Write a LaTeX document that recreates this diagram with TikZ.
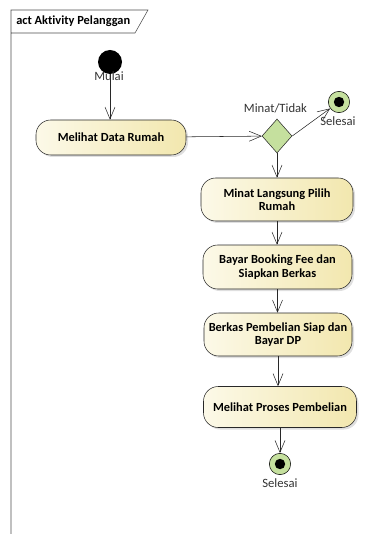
\documentclass[tikz,border=0pt]{standalone}
\usepackage{fontspec}
\setmainfont{Carlito}[Ligatures=NoCommon]
\usepackage{tikz}
\usetikzlibrary{positioning}
\usetikzlibrary{calc}
\usetikzlibrary{shapes}
\usetikzlibrary{shadows}
\usetikzlibrary{arrows.meta}
\definecolor{actLeft}{RGB}{252,249,232}
\definecolor{actRight}{RGB}{242,231,174}
\definecolor{umlGreen}{RGB}{197,224,158}
\definecolor{umlLine}{RGB}{40,40,40}
\tikzset{myAct/.style={draw=umlLine, rounded corners=11pt, left color=actLeft, right color=actRight, align=center, font=\bfseries\fontsize{9.3}{10}\selectfont, drop shadow={shadow xshift=1.5pt, shadow yshift=-1.5pt, fill=black!25}}}
\tikzset{myStart/.style={circle, fill=black, minimum size=18pt, inner sep=0pt}}
\tikzset{myEnd/.style={circle, draw=black, fill=umlGreen, minimum size=16pt, inner sep=0pt, path picture={\fill[black] (path picture bounding box.center) circle (3.9pt);}}}
\tikzset{myDec/.style={diamond, draw=umlLine, fill=umlGreen, minimum width=22.5pt, minimum height=25.5pt, inner sep=0pt}}
\tikzset{myLbl/.style={font=\fontsize{9.5}{11}\selectfont, text=black!80, inner sep=0pt}}
\tikzset{flow/.style={draw=umlLine, -{Straight Barb[length=9pt, width=7.5pt]}}}

\begin{document}
\begin{tikzpicture}[x=0.75pt, y=-0.75pt]

\useasboundingbox (0,0) rectangle (371,534);

% frame
\draw[black!70] (11,534) -- (11,10) -- (148,10) -- (135,33) -- (11,33);
\node[anchor=west, inner sep=0pt, font=\bfseries\fontsize{9.3}{11}\selectfont] (title) at (16,21.5) {act Aktivity Pelanggan};

\node[myStart] (start) at (110,62) {};
\node[myLbl] (startL) at (109,76) {Mulai};

\node[myAct, minimum width=112.5pt, minimum height=26.25pt] (a1) at (111,137.5) {Melihat Data Rumah};

\node[myDec] (dec) at (277,136) {};
\node[myLbl] (decL) at (275.5,108) {Minat/Tidak};

\node[myEnd] (end1) at (339,102) {};
\node[myLbl] (end1L) at (338,121) {Selesai};

\node[myAct, minimum width=114pt, minimum height=32.25pt] (a2) at (277,199.5) {Minat Langsung Pilih\\Rumah};
\node[myAct, minimum width=111.75pt, minimum height=33pt] (a3) at (277.5,267) {Bayar Booking Fee dan\\Siapkan Berkas};
\node[myAct, minimum width=111pt, minimum height=32.25pt] (a4) at (278,334.5) {Berkas Pembelian Siap dan\\Bayar DP};
\node[myAct, minimum width=114.75pt, minimum height=30.75pt] (a5) at (280,407) {Melihat Proses Pembelian};

\node[myEnd] (end2) at (280,464) {};
\node[myLbl] (end2L) at (280,483) {Selesai};

\draw[flow] (start) -- (start |- a1.north);
\draw[flow] (a1) -- (dec);
\draw[flow] (dec.east) -- (end1);
\draw[flow] (dec) -- (dec |- a2.north);
\draw[flow] (a2) -- (a2 |- a3.north);
\draw[flow] (a3) -- (a3 |- a4.north);
\draw[flow] (a4) -- (a4 |- a5.north);
\draw[flow] (a5) -- (end2);

\end{tikzpicture}
\end{document}
